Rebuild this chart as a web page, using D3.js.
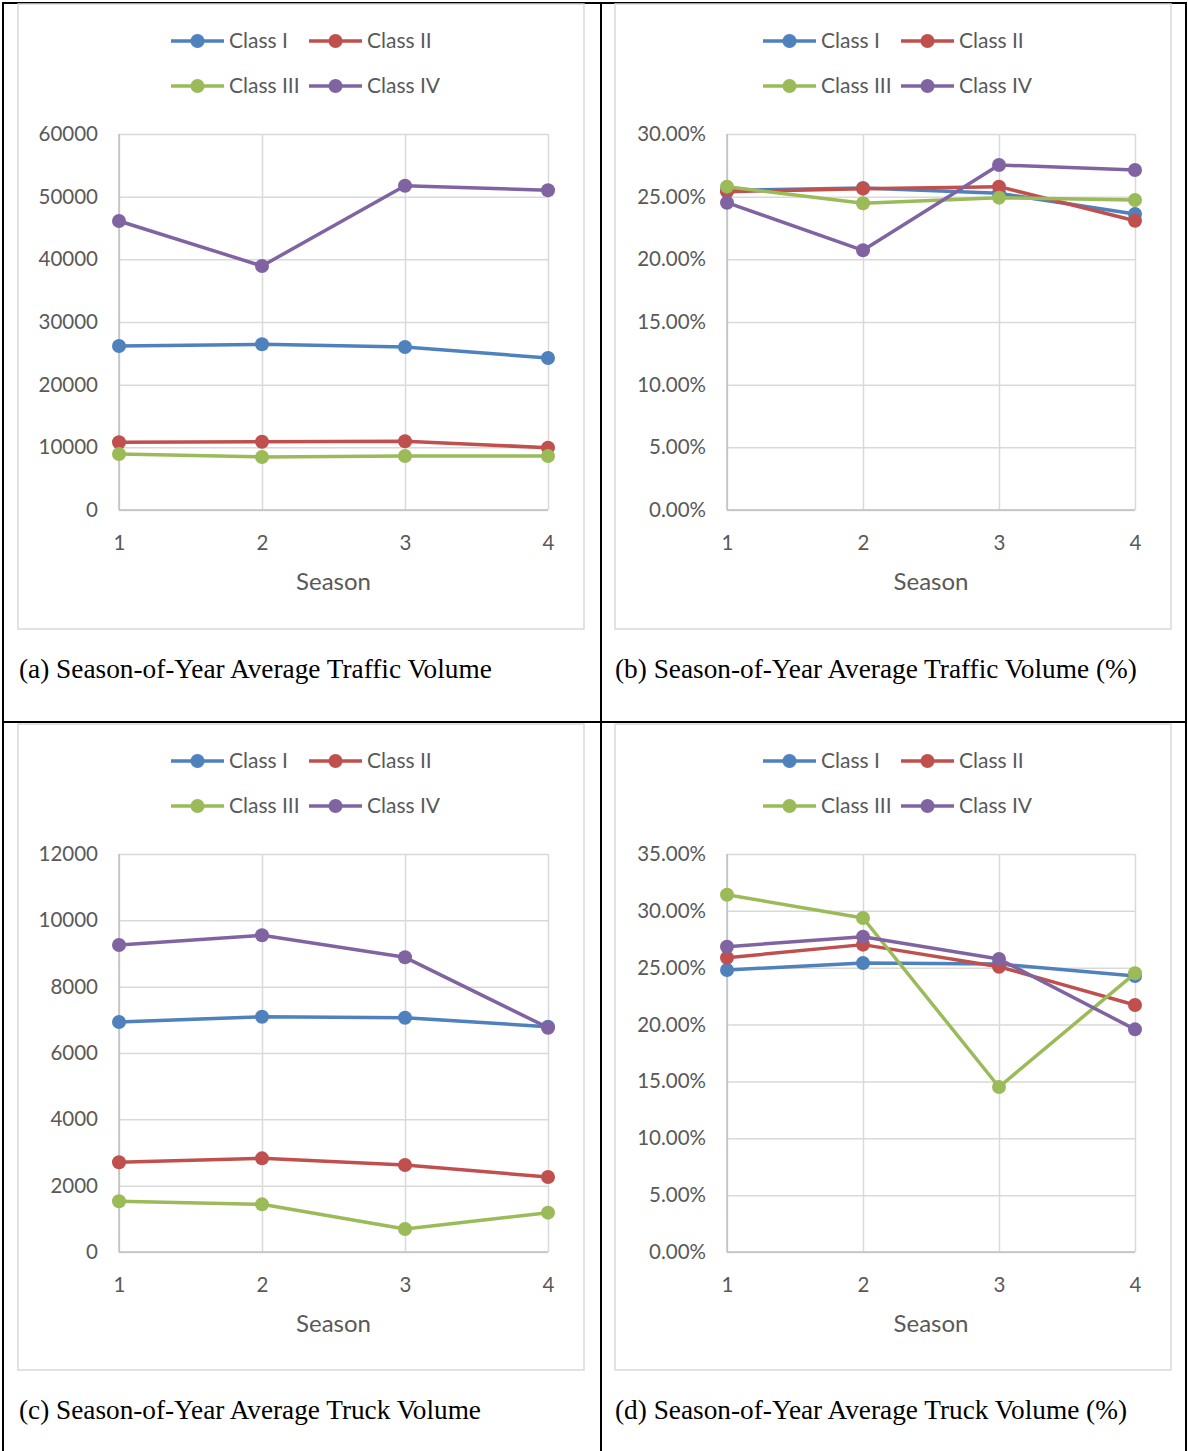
<!DOCTYPE html>
<html>
<head>
<meta charset="utf-8">
<script src="https://cdn.jsdelivr.net/npm/d3@7"></script>
<style>
  body { margin: 0; background: #fff; }
  svg { display: block; }
  .cap { font-family: "Times New Roman", "Liberation Serif", Tinos, serif; }
</style>
</head>
<body>
<div id="chart"></div>
<script>
// data
const seasons = [1, 2, 3, 4];
const classNames = ["Class I", "Class II", "Class III", "Class IV"];
const classColors = ["#4f81bd", "#c0504d", "#9bbb59", "#8064a2"];

const trafficVolume = [
  [26170, 26440, 26010, 24260],
  [10800, 10900, 10960, 9950],
  [8940, 8460, 8620, 8620],
  [46120, 38940, 51750, 51020]
];
const trafficPct = [
  [25.50, 25.70, 25.27, 23.62],
  [25.40, 25.64, 25.80, 23.08],
  [25.80, 24.47, 24.92, 24.73],
  [24.52, 20.72, 27.53, 27.13]
];
const truckVolume = [
  [6935, 7095, 7065, 6794],
  [2704, 2824, 2623, 2261],
  [1528, 1437, 693, 1186],
  [9256, 9548, 8885, 6763]
];
const truckPct = [
  [24.80, 25.41, 25.33, 24.27],
  [25.88, 27.03, 25.09, 21.72],
  [31.42, 29.37, 14.51, 24.51],
  [26.85, 27.73, 25.77, 19.58]
];

const volumeTicks = [0, 10000, 20000, 30000, 40000, 50000, 60000];
const trafficPctTicks = [0, 5, 10, 15, 20, 25, 30];
const truckVolumeTicks = [0, 2000, 4000, 6000, 8000, 10000, 12000];
const truckPctTicks = [0, 5, 10, 15, 20, 25, 30, 35];

const captions = [
  "(a) Season-of-Year Average Traffic Volume",
  "(b) Season-of-Year Average Traffic Volume (%)",
  "(c) Season-of-Year Average Truck Volume",
  "(d) Season-of-Year Average Truck Volume (%)"
];

const W = 1188, H = 1451;
const svg = d3.select("#chart").append("svg")
  .attr("width", W).attr("height", H);

const font = "Lato, 'Open Sans', sans-serif";
const textGray = "#595959";

// table cell borders
const tbl = svg.append("g").attr("stroke", "#000").attr("stroke-width", 2);
tbl.append("line").attr("x1", 3).attr("x2", 3).attr("y1", 2).attr("y2", H);
tbl.append("line").attr("x1", 1186).attr("x2", 1186).attr("y1", 2).attr("y2", H);
tbl.append("line").attr("x1", 601).attr("x2", 601).attr("y1", 2).attr("y2", H);
tbl.append("line").attr("x1", 2).attr("x2", 1187).attr("y1", 3).attr("y2", 3);
tbl.append("line").attr("x1", 2).attr("x2", 1187).attr("y1", 722).attr("y2", 722);

const panels = [
  {frame: [18, 4, 584, 629], plot: [119, 134, 548, 510], data: trafficVolume, ticks: volumeTicks, fmt: d => d, legendX: 171, legendY: 41, capX: 19, capY: 678, capW: 473},
  {frame: [615, 4, 1171, 629], plot: [727, 134, 1135, 510], data: trafficPct, ticks: trafficPctTicks, fmt: d => d.toFixed(2) + "%", legendX: 763, legendY: 41, capX: 615, capY: 678, capW: 522},
  {frame: [18, 724, 584, 1370], plot: [119, 854, 548, 1252], data: truckVolume, ticks: truckVolumeTicks, fmt: d => d, legendX: 171, legendY: 761, capX: 19, capY: 1419, capW: 462},
  {frame: [615, 724, 1171, 1370], plot: [727, 854, 1135, 1252], data: truckPct, ticks: truckPctTicks, fmt: d => d.toFixed(2) + "%", legendX: 763, legendY: 761, capX: 615, capY: 1419, capW: 512}
];

panels.forEach((p, i) => {
  const g = svg.append("g");
  const [fx0, fy0, fx1, fy1] = p.frame;
  const [px0, py0, px1, py1] = p.plot;

  g.append("rect")
    .attr("x", fx0).attr("y", fy0)
    .attr("width", fx1 - fx0).attr("height", fy1 - fy0)
    .attr("fill", "#fff")
    .attr("stroke", "#d9d9d9").attr("stroke-width", 1.5);

  const x = d3.scalePoint().domain(seasons).range([px0, px1]);
  const y = d3.scaleLinear().domain([0, d3.max(p.ticks)]).range([py1, py0]);

  // horizontal grid
  g.append("g")
    .attr("transform", `translate(${px0},0)`)
    .call(d3.axisLeft(y).tickValues(p.ticks).tickSize(-(px1 - px0)).tickFormat(p.fmt).tickPadding(21))
    .call(a => a.select(".domain").remove())
    .call(a => a.selectAll("line").attr("stroke", "#d9d9d9").attr("stroke-width", 1.5))
    .call(a => a.selectAll("text").attr("fill", textGray).style("font-family", font).style("font-size", "20.5px"));

  // vertical grid + x labels
  g.append("g")
    .attr("transform", `translate(0,${py1})`)
    .call(d3.axisBottom(x).tickSize(-(py1 - py0)).tickPadding(25))
    .call(a => a.select(".domain").remove())
    .call(a => a.selectAll("line").attr("stroke", "#d9d9d9").attr("stroke-width", 1.5))
    .call(a => a.selectAll("text").attr("fill", textGray).style("font-family", font).style("font-size", "20.5px"));

  // axis lines
  g.append("line").attr("x1", px0).attr("x2", px0).attr("y1", py0).attr("y2", py1)
    .attr("stroke", "#bfbfbf").attr("stroke-width", 1.5);
  g.append("line").attr("x1", px0).attr("x2", px1).attr("y1", py1).attr("y2", py1)
    .attr("stroke", "#bfbfbf").attr("stroke-width", 1.5);

  g.append("text")
    .attr("x", (px0 + px1) / 2).attr("y", py1 + 80)
    .attr("text-anchor", "middle")
    .attr("fill", textGray)
    .style("font-family", font).style("font-size", "24px")
    .text("Season");

  const line = d3.line().x((d, j) => x(seasons[j])).y(d => y(d));

  p.data.forEach((vals, k) => {
    g.append("path")
      .datum(vals)
      .attr("d", line)
      .attr("fill", "none")
      .attr("stroke", classColors[k])
      .attr("stroke-width", 3.5)
      .attr("stroke-linejoin", "round");
    g.selectAll(".pt" + k)
      .data(vals)
      .enter()
      .append("circle")
      .attr("cx", (d, j) => x(seasons[j]))
      .attr("cy", d => y(d))
      .attr("r", 7)
      .attr("fill", classColors[k]);
  });

  // legend, two rows of two
  classNames.forEach((name, k) => {
    const lx = p.legendX + (k % 2) * 138;
    const ly = p.legendY + Math.floor(k / 2) * 45;
    const lg = g.append("g");
    lg.append("line").attr("x1", lx).attr("x2", lx + 53).attr("y1", ly).attr("y2", ly)
      .attr("stroke", classColors[k]).attr("stroke-width", 3.5);
    lg.append("circle").attr("cx", lx + 26.5).attr("cy", ly).attr("r", 7).attr("fill", classColors[k]);
    lg.append("text").attr("x", lx + 58).attr("y", ly)
      .attr("dy", "0.35em")
      .attr("fill", textGray)
      .style("font-family", font).style("font-size", "21px")
      .text(name);
  });

  // caption: size the font so the line fills the same width as the original
  const cap = g.append("text")
    .attr("class", "cap")
    .attr("x", p.capX).attr("y", p.capY)
    .attr("fill", "#000")
    .style("font-size", "24px")
    .text(captions[i]);
  const natural = cap.node().getComputedTextLength();
  cap.style("font-size", (24 * p.capW / natural).toFixed(2) + "px");
});
</script>
</body>
</html>
